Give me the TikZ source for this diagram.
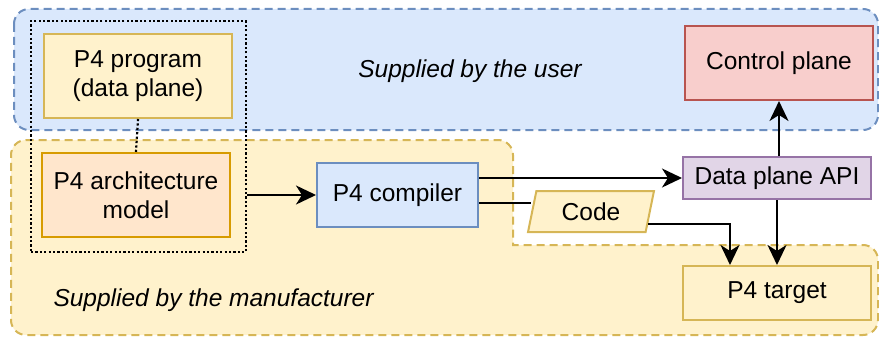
\documentclass[tikz,border=0pt]{standalone}
\usepackage{fontspec}
\setmainfont{Liberation Sans}
\usetikzlibrary{arrows.meta,shapes.geometric}
\definecolor{bluefill}{HTML}{DAE8FC}
\definecolor{bluedraw}{HTML}{6C8EBF}
\definecolor{yelfill}{HTML}{FFF2CC}
\definecolor{yeldraw}{HTML}{D6B656}
\definecolor{orfill}{HTML}{FFE6CC}
\definecolor{ordraw}{HTML}{D79B00}
\definecolor{redfill}{HTML}{F8CECC}
\definecolor{reddraw}{HTML}{B85450}
\definecolor{purfill}{HTML}{E1D5E7}
\definecolor{purdraw}{HTML}{9673A6}
\tikzset{
  region/.style={line width=2pt, dash pattern=on 8pt off 5pt},
  box/.style={draw, line width=2pt, inner sep=0pt, align=center,
    font=\fontsize{24.5}{29}\selectfont},
  arr/.style={line width=2.2pt, -{Stealth[length=20pt,width=19pt,inset=6pt]}},
  plain/.style={line width=2.2pt},
  dotline/.style={line width=2.2pt, dash pattern=on 2.2pt off 2.2pt},
  lbl/.style={font=\fontsize{24.5}{29}\selectfont\itshape}
}
\begin{document}
\begin{tikzpicture}[x=1pt,y=-1pt]
\useasboundingbox (0,0) rectangle (879,337);
% regions
\path[region, fill=bluefill, draw=bluedraw, rounded corners=15] (14,9) rectangle (878,130);
\path[region, fill=yelfill, draw=yeldraw] (513,200) [rounded corners=15] -- (513,140) -- (11,140) -- (11,335) -- (878,335) -- (878,245) [sharp corners] -- (513,245) -- cycle;
\node[lbl] (user) at (470,71) {Supplied by the user};
\node[lbl, anchor=west] (manu) at (50,300) {Supplied by the manufacturer};
% nodes
\node[box, fill=yelfill, draw=yeldraw, minimum width=188, minimum height=84] (prog) at (138,76) {P4 program\\(data plane)};
\node[box, fill=orfill, draw=ordraw, minimum width=188, minimum height=84] (arch) at (136,195) {P4 architecture\\model};
\node[draw, dotline, minimum width=215, minimum height=231, inner sep=0pt] (group) at (138.5,136.5) {};
\node[box, fill=bluefill, draw=bluedraw, minimum width=161, minimum height=64] (compiler) at (397.5,195) {P4 compiler};
\node[box, fill=redfill, draw=reddraw, minimum width=188, minimum height=74] (control) at (779,63) {Control plane};
\node[box, fill=purfill, draw=purdraw, minimum width=188, minimum height=42] (api) at (777,178) {Data plane API};
\node[box, fill=yelfill, draw=yeldraw, minimum width=188, minimum height=54] (target) at (777,293) {P4 target};
\node[box, trapezium, trapezium stretches=true, trapezium left angle=76, trapezium right angle=104, fill=yelfill, draw=yeldraw, minimum width=126, minimum height=41] (code) at (591,211.5) {Code};
% connectors
\draw[dotline] (prog.south) -- (arch.north);
\draw[arr] (arch.east -| group.east) -- (compiler.west);
\draw[arr] (compiler.east |- api.west) -- (api.west);
\draw[plain] ([yshift=-8]compiler.east) -- ([yshift=-8]compiler.east -| code.west);
\draw[arr] ([xshift=1.5,yshift=9]code.bottom right corner) -| ([xshift=-47]target.north);
\draw[arr] (api.south) -- (target.north);
\draw[arr] (control.south |- api.north) -- (control.south);
\end{tikzpicture}
\end{document}
